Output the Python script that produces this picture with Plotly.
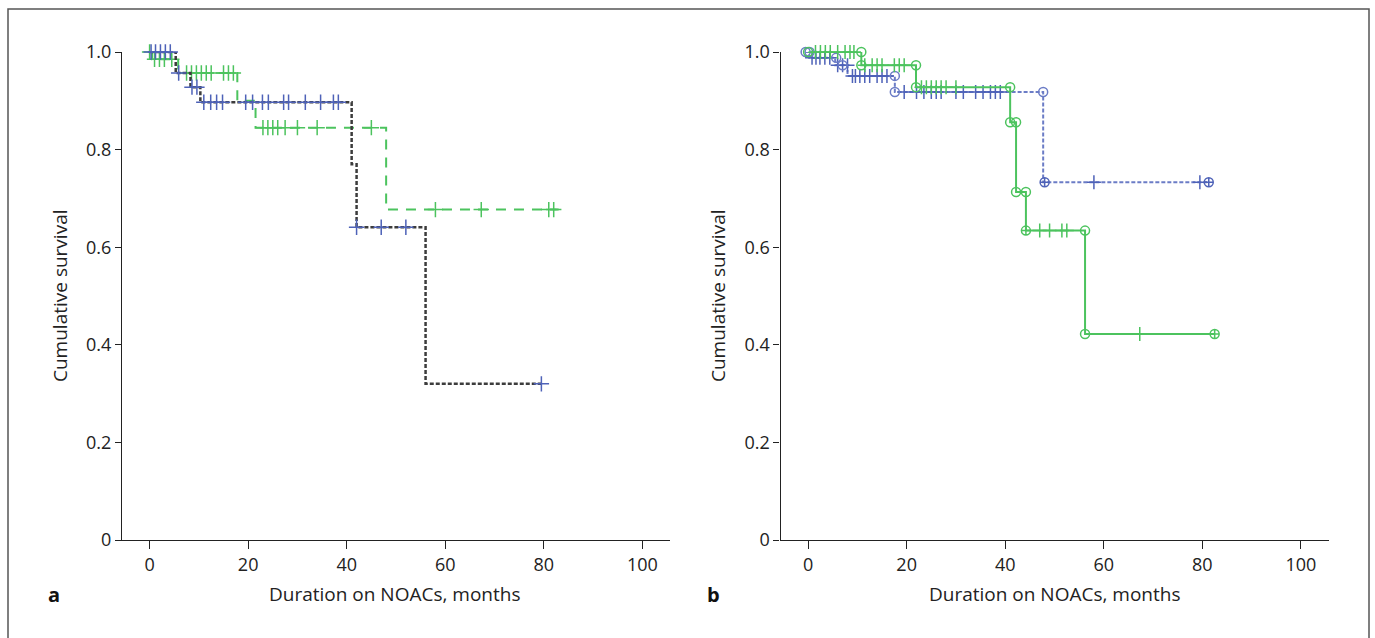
import plotly.graph_objects as go

W, H = 1375, 638

# ---------------- data ----------------
x_ticks = [0, 20, 40, 60, 80, 100]
y_ticks = [0, 0.2, 0.4, 0.6, 0.8, 1.0]
y_tick_labels = ["0", "0.2", "0.4", "0.6", "0.8", "1.0"]

# Panel a – group 1 (blue marks, dark dashed line)
a1_time = [0, 5.3, 8.3, 10.3, 41.0, 42.0, 56.0, 79.5]
a1_surv = [1.0, 0.957, 0.928, 0.897, 0.770, 0.641, 0.320, 0.320]
a1_cens_t = [0.3, 1.2, 2.2, 3.2, 4.2, 5.9, 8.6, 9.6,
             11.0, 12.4, 13.6, 14.8, 19.5, 20.9, 22.9, 24.1, 27.2, 28.2, 31.6, 34.7, 37.3, 38.3,
             42.0, 47.0, 52.0, 79.5]
a1_cens_s = [1.0, 1.0, 1.0, 1.0, 1.0, 0.957, 0.928, 0.928,
             0.897, 0.897, 0.897, 0.897, 0.897, 0.897, 0.897, 0.897, 0.897, 0.897, 0.897, 0.897, 0.897, 0.897,
             0.641, 0.641, 0.641, 0.320]

# Panel a – group 2 (green, long dashes)
a2_time = [0, 0.5, 5.8, 17.8, 21.5, 48.0, 83.0]
a2_surv = [1.0, 0.985, 0.957, 0.900, 0.845, 0.677, 0.677]
a2_cens_t = [0.0, 1.0, 2.0, 3.0, 4.5,
             7.5, 8.5, 9.5, 10.5, 11.5, 12.5, 15.0, 16.0, 17.0,
             23.0, 24.0, 25.0, 26.0, 27.5, 30.0, 34.0, 45.0,
             58.0, 67.3, 81.0, 82.0]
a2_cens_s = [1.0, 0.985, 0.985, 0.985, 0.985,
             0.957, 0.957, 0.957, 0.957, 0.957, 0.957, 0.957, 0.957, 0.957,
             0.845, 0.845, 0.845, 0.845, 0.845, 0.845, 0.845, 0.845,
             0.677, 0.677, 0.677, 0.677]

# Panel b – group 1 (blue, short dashes)
b1_time = [-0.5, 0.2, 5.5, 8.0, 17.6, 47.7, 81.3]
b1_surv = [1.0, 0.988, 0.973, 0.951, 0.918, 0.733, 0.733]
b1_cens_t = [0.8, 1.6, 2.4, 3.4, 4.4, 6.0, 7.0, 8.0,
             9.0, 9.6, 10.5, 11.5, 12.5, 14.0, 15.0, 16.0,
             19.5, 22.0, 23.5, 25.0, 26.0, 27.0, 30.0, 31.5, 34.0, 35.5, 37.0, 38.0, 39.0,
             58.0, 79.5]
b1_cens_s = [0.988, 0.988, 0.988, 0.988, 0.988, 0.973, 0.973, 0.973,
             0.951, 0.951, 0.951, 0.951, 0.951, 0.951, 0.951, 0.951,
             0.918, 0.918, 0.918, 0.918, 0.918, 0.918, 0.918, 0.918, 0.918, 0.918, 0.918, 0.918, 0.918,
             0.733, 0.733]
b1_circ_t = [-0.5, 0.3, 5.7, 7.0, 17.6, 17.6, 47.7]
b1_circ_s = [1.0, 1.0, 0.988, 0.973, 0.951, 0.918, 0.918]
b1_xcirc_t = [48.0, 81.3]
b1_xcirc_s = [0.733, 0.733]

# Panel b – group 2 (green, solid)
b2_time = [0, 10.8, 21.9, 41.0, 42.2, 44.2, 56.2, 82.5]
b2_surv = [1.0, 0.973, 0.928, 0.856, 0.713, 0.634, 0.422, 0.422]
b2_cens_t = [1.5, 2.5, 3.5, 4.5, 6.0, 7.5, 8.5, 9.3,
             11.5, 13.0, 14.0, 15.0, 17.5, 18.5, 19.5,
             23.0, 24.0, 25.0, 26.0, 27.0, 28.0, 30.0,
             47.0, 49.0, 51.5, 52.5, 67.3]
b2_cens_s = [1.0, 1.0, 1.0, 1.0, 1.0, 1.0, 1.0, 1.0,
             0.973, 0.973, 0.973, 0.973, 0.973, 0.973, 0.973,
             0.928, 0.928, 0.928, 0.928, 0.928, 0.928, 0.928,
             0.634, 0.634, 0.634, 0.634, 0.422]
b2_circ_t = [0.0, 10.8, 10.8, 21.9, 21.9, 41.0, 41.0, 42.2, 42.2, 44.2, 56.2, 56.2]
b2_circ_s = [1.0, 1.0, 0.973, 0.973, 0.928, 0.928, 0.856, 0.856, 0.713, 0.713, 0.634, 0.422]
b2_xcirc_t = [44.2, 82.5]
b2_xcirc_s = [0.634, 0.422]

x_title = "Duration on NOACs, months"
y_title = "Cumulative survival"
panel_labels = ["a", "b"]

# ---------------- styles ----------------
BLUE = "#4e62b8"
BLUE_B = "#6b7cc6"
GREEN = "#4cc35e"
DARK = "#3c3c3c"
FONT = "Open Sans"

fig = go.Figure()


def step(t, s, xa, ya, color, dash, width):
    fig.add_trace(go.Scatter(x=t, y=s, mode="lines", line=dict(shape="hv", color=color, dash=dash, width=width),
                             xaxis=xa, yaxis=ya, showlegend=False, hoverinfo="skip", cliponaxis=False))


def marks(t, s, xa, ya, color, symbol, size, lw=1.5):
    fig.add_trace(go.Scatter(x=t, y=s, mode="markers",
                             marker=dict(symbol=symbol, size=size, color=color, line=dict(color=color, width=lw)),
                             xaxis=xa, yaxis=ya, showlegend=False, hoverinfo="skip", cliponaxis=False))


# panel a
step(a2_time, a2_surv, "x", "y", GREEN, "10px,8px", 2)
marks(a2_cens_t, a2_cens_s, "x", "y", GREEN, "cross-thin-open", 11)
step(a1_time, a1_surv, "x", "y", DARK, "4px,2px", 2.5)
marks(a1_cens_t, a1_cens_s, "x", "y", BLUE, "cross-thin-open", 11)

# panel b
step(b1_time, b1_surv, "x2", "y2", BLUE_B, "4px,2px", 2)
marks(b1_cens_t, b1_cens_s, "x2", "y2", BLUE, "cross-thin-open", 10)
marks(b1_circ_t, b1_circ_s, "x2", "y2", BLUE_B, "circle-open", 9)
marks(b1_xcirc_t, b1_xcirc_s, "x2", "y2", BLUE, "circle-cross-open", 9)
step(b2_time, b2_surv, "x2", "y2", GREEN, "solid", 2)
marks(b2_cens_t, b2_cens_s, "x2", "y2", GREEN, "cross-thin-open", 10)
marks(b2_circ_t, b2_circ_s, "x2", "y2", GREEN, "circle-open", 9)
marks(b2_xcirc_t, b2_xcirc_s, "x2", "y2", GREEN, "circle-cross-open", 9)

XR = [-5.6, 105.6]
y_dom = [(H - 540) / H, (H - 52) / H]
xa_dom = [122 / W, 670 / W]
xb_dom = [780.5 / W, 1328.5 / W]

xaxis_common = dict(range=XR, tickvals=x_ticks, ticks="outside", ticklen=8, tickwidth=1.2, tickcolor="#222",
                    showline=True, linecolor="#222", linewidth=1.2, showgrid=False, zeroline=False,
                    automargin=False, tickfont=dict(family=FONT, size=18, color="#222"))
yaxis_common = dict(range=[0, 1], tickvals=y_ticks, ticktext=y_tick_labels, ticks="outside", ticklen=6,
                    tickwidth=1.2, tickcolor="#222", showline=True, linecolor="#222", linewidth=1.2,
                    showgrid=False, zeroline=False, automargin=False,
                    tickfont=dict(family=FONT, size=18, color="#222"))

fig.update_layout(
    width=W, height=H, margin=dict(l=0, r=0, t=0, b=0, autoexpand=False),
    paper_bgcolor="white", plot_bgcolor="white",
    xaxis=dict(domain=xa_dom, anchor="y", **xaxis_common),
    yaxis=dict(domain=y_dom, anchor="x", **yaxis_common),
    xaxis2=dict(domain=xb_dom, anchor="y2", **xaxis_common),
    yaxis2=dict(domain=y_dom, anchor="x2", **yaxis_common),
)

# border
fig.add_shape(type="rect", xref="paper", yref="paper", x0=8 / W, x1=1369 / W, y0=-0.01, y1=(H - 9) / H,
              line=dict(color="#555", width=1.5), fillcolor="rgba(0,0,0,0)", layer="below")

ann = []
for i, (xc, ylx, plx) in enumerate([(395, 60, 54), (1055, 718, 714)]):
    ann.append(dict(text=x_title, x=xc / W, y=(H - 594) / H, xref="paper", yref="paper", showarrow=False,
                    font=dict(family=FONT, size=19, color="#222"), xanchor="center", yanchor="middle"))
    ann.append(dict(text=y_title, x=ylx / W, y=(H - 296) / H, xref="paper", yref="paper", showarrow=False,
                    textangle=-90, font=dict(family=FONT, size=19, color="#222"), xanchor="center",
                    yanchor="middle"))
    ann.append(dict(text="<b>" + panel_labels[i] + "</b>", x=plx / W, y=(H - 594) / H, xref="paper",
                    yref="paper", showarrow=False, font=dict(family=FONT, size=20, color="#111"),
                    xanchor="center", yanchor="middle"))
fig.update_layout(annotations=ann)

post = ("document.body.style.margin='0';document.body.style.padding='0';"
        "document.body.style.overflow='hidden';"
        "var d=document.getElementById('{plot_id}');"
        "var p=d.parentElement;p.style.position='absolute';p.style.top='0';p.style.left='0';"
        "p.style.margin='0';")
fig.write_html("out.html", post_script=post, config={"displayModeBar": False})
